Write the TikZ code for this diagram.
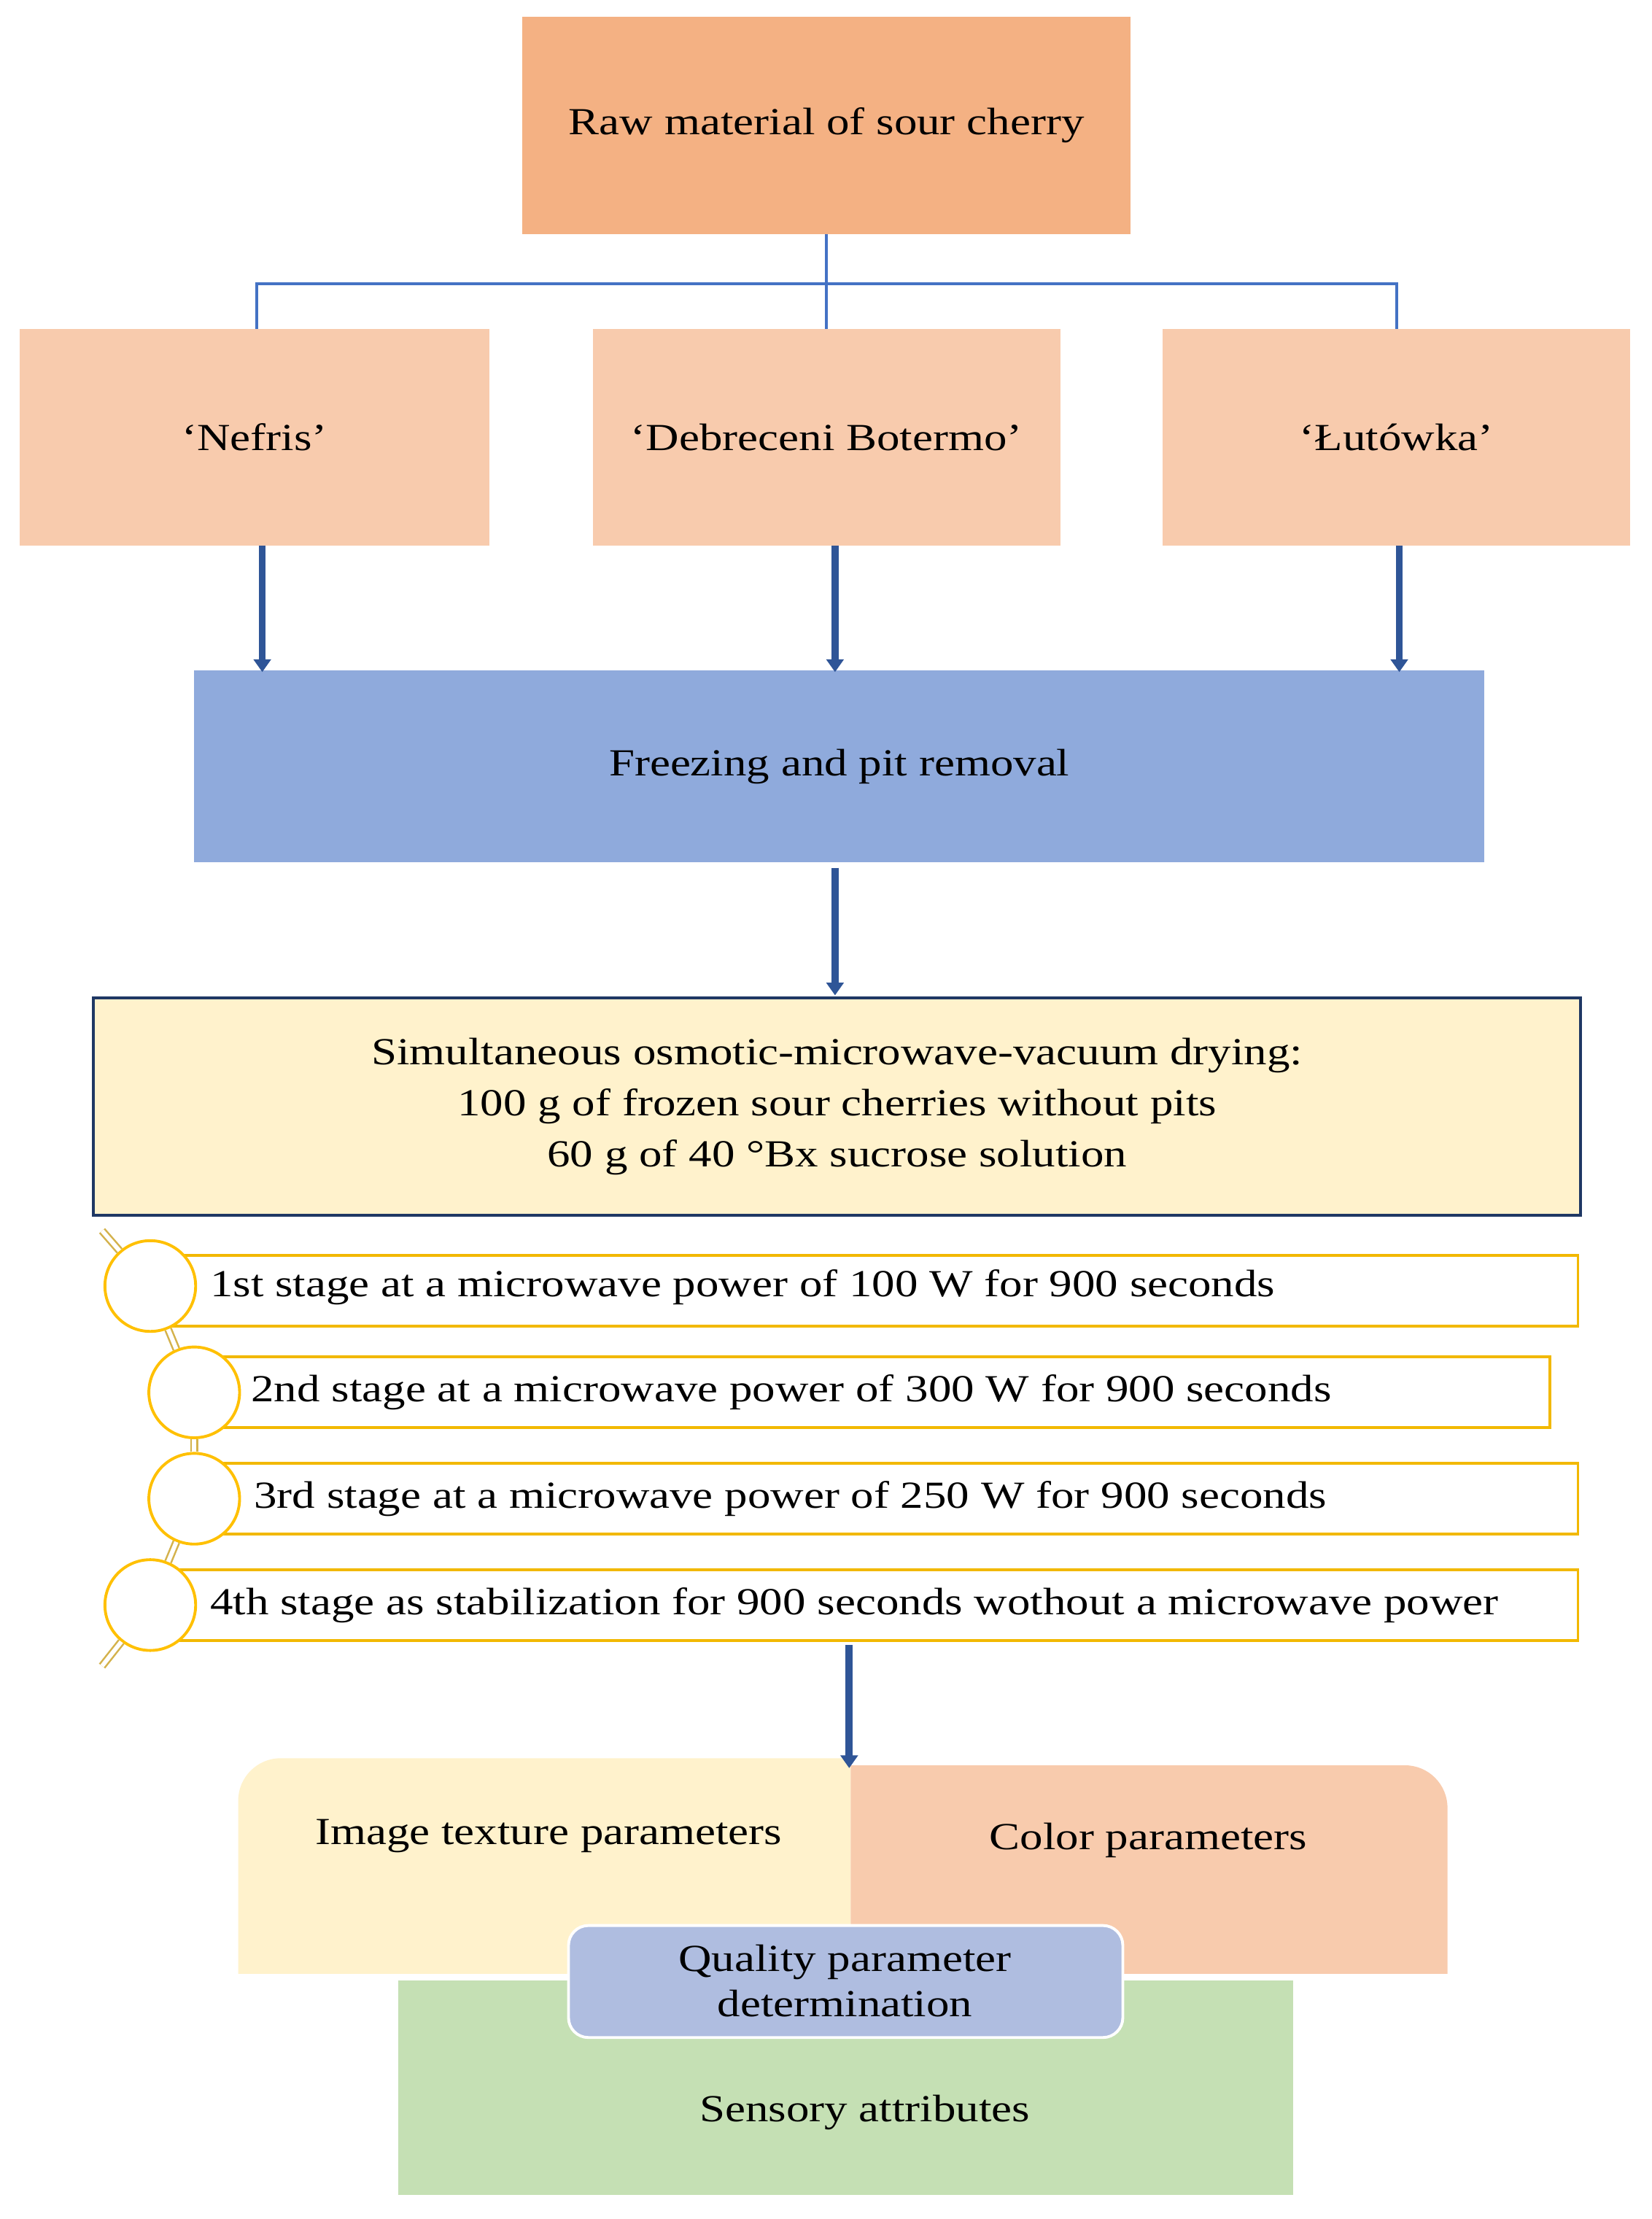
\documentclass[tikz,border=0pt]{standalone}
\usepackage{fontspec}
\setmainfont[FakeStretch=1.2]{Liberation Serif}
\usetikzlibrary{arrows.meta}
\definecolor{rawc}{HTML}{F4B183}
\definecolor{varc}{HTML}{F8CBAD}
\definecolor{frzc}{HTML}{8FAADC}
\definecolor{simc}{HTML}{FFF2CC}
\definecolor{navy}{HTML}{1F3864}
\definecolor{linec}{HTML}{4472C4}
\definecolor{arrc}{HTML}{2F5597}
\definecolor{stgc}{HTML}{F2B800}
\definecolor{circ}{HTML}{FFC000}
\definecolor{tanc}{HTML}{D4B24C}
\definecolor{grnc}{HTML}{C5E0B4}
\definecolor{qc}{HTML}{AFBDE0}
\begin{document}
\begin{tikzpicture}[x=1pt,y=-1pt,
  every node/.style={font=\fontsize{27}{32}\selectfont, inner sep=0pt, align=center},
  box/.style={rectangle, anchor=center},
  thin line/.style={draw=linec, line width=2pt},
  big arrow/.style={draw=arrc, line width=5pt, -{Triangle[length=9pt,width=12pt]}},
  stage/.style={draw=stgc, line width=2pt, fill=white, rectangle, anchor=center, minimum height=50pt},
  circ/.style={draw=circ, line width=2pt, fill=white, circle, minimum size=64pt},
  link/.style={draw=tanc, line width=1.3pt, double=white, double distance=3pt},
  stxt/.style={anchor=west}]
\useasboundingbox (0,0) rectangle (1165,1565);
\node[box, fill=rawc, minimum width=429pt, minimum height=153pt] (raw) at (583,88.5) {Raw material of sour cherry};
\node[box, fill=varc, minimum width=331pt, minimum height=153pt] (nef) at (179.5,308.5) {‘Nefris’};
\node[box, fill=varc, minimum width=330pt, minimum height=153pt] (deb) at (583,308.5) {‘Debreceni Botermo’};
\node[box, fill=varc, minimum width=330pt, minimum height=153pt] (lut) at (985,308.5) {‘Łutówka’};
\coordinate (hub) at (583,200);
\draw[thin line] (raw.south) -- (hub);
\draw[thin line] (hub) -- (181,200) -- (181,232);
\draw[thin line] (hub) -- (985,200) -- (985,232);
\draw[thin line] (hub) -- (deb.north);
\node[box, fill=frzc, minimum width=910pt, minimum height=135pt] (frz) at (592,540.5) {Freezing and pit removal};
\draw[big arrow] (185,385) -- (185,474);
\draw[big arrow] (589,385) -- (589,474);
\draw[big arrow] (987,385) -- (987,474);
\node[box, fill=simc, draw=navy, line width=2pt, minimum width=1049pt, minimum height=153pt] (sim) at (590.5,780.5)
  {Simultaneous osmotic-microwave-vacuum drying:\\[4pt]100 g of frozen sour cherries without pits\\[4pt]60 g of 40 °Bx sucrose solution};
\draw[big arrow] (589,612) -- (589,702);
% stages
\node[stage, minimum width=1008pt] (s1) at (609,910.5) {};
\node[stage, minimum width=956pt] (s2) at (615,982) {};
\node[stage, minimum width=976pt] (s3) at (625,1057) {};
\node[stage, minimum width=1008pt] (s4) at (609,1132) {};
\coordinate (top) at (72,868);
\coordinate (bot) at (72,1175);
\node[circ] (c1) at (106,907) {};
\node[circ] (c2) at (137,982) {};
\node[circ] (c3) at (137,1057) {};
\node[circ] (c4) at (106,1132) {};
\draw[link] (top) -- (c1);
\draw[link] (c1) -- (c2);
\draw[link] (c2) -- (c3);
\draw[link] (c3) -- (c4);
\draw[link] (c4) -- (bot);
\node[stxt] (t1) at (148,908) {1st stage at a microwave power of 100 W for 900 seconds};
\node[stxt] (t2) at (177,982) {2nd stage at a microwave power of 300 W for 900 seconds};
\node[stxt] (t3) at (179,1057) {3rd stage at a microwave power of 250 W for 900 seconds};
\node[stxt] (t4) at (148,1132) {4th stage as stabilization for 900 seconds wothout a microwave power};
% bottom
\fill[simc] (168,1392) -- (168,1270) arc[start angle=180, end angle=270, radius=30] -- (600,1240) -- (600,1392) -- cycle;
\fill[varc] (600,1392) -- (600,1245) -- (991,1245) arc[start angle=-90, end angle=0, radius=30] -- (1021,1392) -- cycle;
\fill[grnc] (281,1397) rectangle (912,1548);
\node (img) at (387,1295) {Image texture parameters};
\node (col) at (810,1298) {Color parameters};
\node (sen) at (610,1490) {Sensory attributes};
\draw[white, line width=2pt, fill=qc, rounded corners=14pt] (401,1358) rectangle (792,1437);
\node (qual) at (596,1397) {Quality parameter\\determination};
\coordinate (bt) at (599,1160);
\coordinate (bb) at (599,1247);
\draw[big arrow] (bt) -- (bb);
\end{tikzpicture}
\end{document}
